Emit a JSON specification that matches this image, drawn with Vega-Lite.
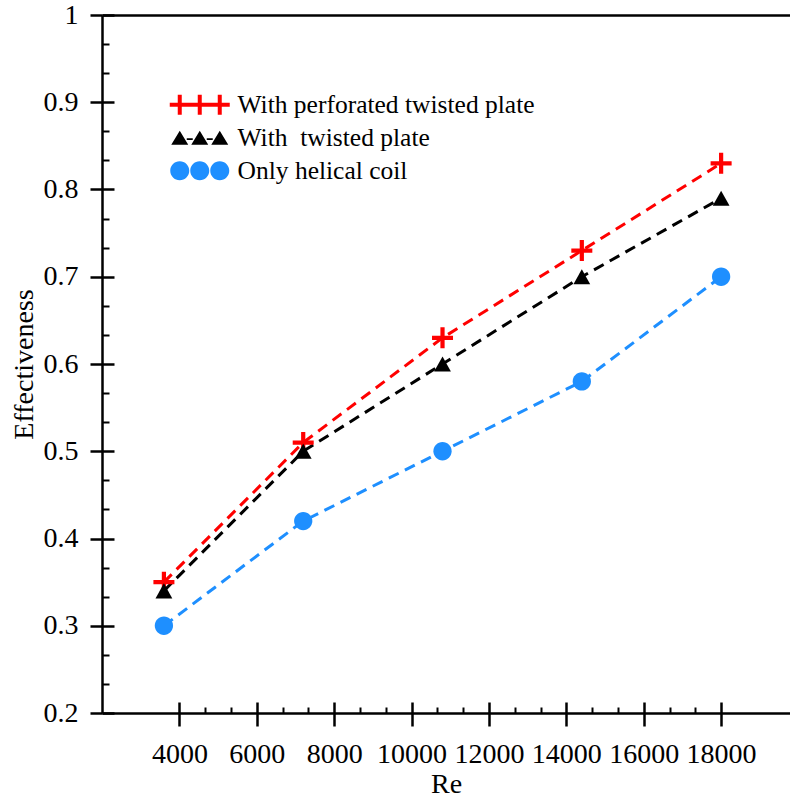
{
  "$schema": "https://vega.github.io/schema/vega-lite/v6.json",
  "width": 688,
  "height": 698,
  "autosize": {"type": "none"},
  "padding": {"left": 102, "top": 15, "right": 0, "bottom": 88},
  "background": "white",
  "config": {
    "view": {"stroke": null},
    "axis": {
      "grid": false,
      "labelFont": "Liberation Serif",
      "labelFontSize": 28,
      "labelColor": "black",
      "titleFont": "Liberation Serif",
      "titleFontSize": 28,
      "titleFontWeight": "normal",
      "titleColor": "black",
      "domainColor": "black",
      "tickColor": "black",
      "labelFlush": false,
      "labelOverlap": false
    }
  },
  "data": {
    "values": [
      {"Re": 3600, "E": 0.35, "series": "With perforated twisted plate"},
      {"Re": 7200, "E": 0.51, "series": "With perforated twisted plate"},
      {"Re": 10800, "E": 0.63, "series": "With perforated twisted plate"},
      {"Re": 14400, "E": 0.73, "series": "With perforated twisted plate"},
      {"Re": 18000, "E": 0.83, "series": "With perforated twisted plate"},
      {"Re": 3600, "E": 0.34, "series": "With\u00a0 twisted plate"},
      {"Re": 7200, "E": 0.50, "series": "With\u00a0 twisted plate"},
      {"Re": 10800, "E": 0.60, "series": "With\u00a0 twisted plate"},
      {"Re": 14400, "E": 0.70, "series": "With\u00a0 twisted plate"},
      {"Re": 18000, "E": 0.79, "series": "With\u00a0 twisted plate"},
      {"Re": 3600, "E": 0.30, "series": "Only helical coil"},
      {"Re": 7200, "E": 0.42, "series": "Only helical coil"},
      {"Re": 10800, "E": 0.50, "series": "Only helical coil"},
      {"Re": 14400, "E": 0.58, "series": "Only helical coil"},
      {"Re": 18000, "E": 0.70, "series": "Only helical coil"}
    ]
  },
  "layer": [
    {
      "mark": {"type": "line", "strokeWidth": 3, "strokeDash": [11, 7]},
      "encoding": {
        "x": {
          "field": "Re", "type": "quantitative",
          "scale": {"domain": [2000, 19780], "nice": false, "zero": false},
          "axis": {
            "orient": "bottom",
            "values": [4000, 6000, 8000, 10000, 12000, 14000, 16000, 18000],
            "format": "d",
            "tickSize": 13, "tickWidth": 2.5, "domainWidth": 2.5,
            "labelPadding": 14,
            "title": "Re", "titlePadding": 2
          }
        },
        "y": {
          "field": "E", "type": "quantitative",
          "scale": {"domain": [0.2, 1], "nice": false, "zero": false},
          "axis": {
            "orient": "left",
            "values": [0.2, 0.3, 0.4, 0.5, 0.6, 0.7, 0.8, 0.9, 1],
            "format": "~g",
            "tickSize": 12, "tickWidth": 2.5, "domainWidth": 2.5,
            "labelPadding": 12,
            "title": "Effectiveness", "titlePadding": 5
          }
        },
        "color": {
          "field": "series", "type": "nominal",
          "scale": {
            "domain": ["With perforated twisted plate", "With\u00a0 twisted plate", "Only helical coil"],
            "range": ["#ff0000", "#000000", "#1e8fff"]
          },
          "legend": null
        },
        "detail": {"field": "series"}
      }
    },
    {
      "mark": {"type": "point", "filled": true, "opacity": 1, "strokeWidth": 0, "size": 441},
      "encoding": {
        "x": {
          "field": "Re", "type": "quantitative",
          "scale": {"domain": [2000, 19780], "nice": false, "zero": false},
          "axis": {
            "orient": "bottom",
            "values": [4000, 6000, 8000, 10000, 12000, 14000, 16000, 18000],
            "tickSize": -11, "tickWidth": 2.5,
            "domain": false, "labels": false, "title": null
          }
        },
        "y": {
          "field": "E", "type": "quantitative",
          "scale": {"domain": [0.2, 1], "nice": false, "zero": false},
          "axis": {
            "orient": "left",
            "values": [0.2, 0.3, 0.4, 0.5, 0.6, 0.7, 0.8, 0.9, 1],
            "tickSize": -12, "tickWidth": 2.5,
            "domain": false, "labels": false, "title": null
          }
        },
        "color": {
          "field": "series", "type": "nominal",
          "scale": {
            "domain": ["With perforated twisted plate", "With\u00a0 twisted plate", "Only helical coil"],
            "range": ["#ff0000", "#000000", "#1e8fff"]
          },
          "legend": null
        },
        "shape": {
          "field": "series", "type": "nominal",
          "scale": {
            "domain": ["With perforated twisted plate", "With\u00a0 twisted plate", "Only helical coil"],
            "range": [
              "M-1,-0.2H-0.2V-1H0.2V-0.2H1V0.2H0.2V1H-0.2V0.2H-1Z",
              "M0,-0.72L0.8,0.72L-0.8,0.72Z",
              "M-0.87,0A0.87,0.87,0,1,0,0.87,0A0.87,0.87,0,1,0,-0.87,0Z"
            ]
          },
          "legend": null
        }
      }
    },
    {
      "transform": [{"filter": "false"}],
      "mark": {"type": "point", "filled": true, "opacity": 1, "strokeWidth": 0},
      "encoding": {
        "x": {
          "field": "Re", "type": "quantitative",
          "scale": {"domain": [2000, 19780], "nice": false, "zero": false},
          "axis": {
            "orient": "bottom",
            "values": [4667, 5333, 6667, 7333, 8667, 9333, 10667, 11333, 12667, 13333, 14667, 15333, 16667, 17333],
            "tickSize": -6, "tickWidth": 2,
            "domain": false, "labels": false, "title": null
          }
        },
        "y": {
          "field": "E", "type": "quantitative",
          "scale": {"domain": [0.2, 1], "nice": false, "zero": false},
          "axis": {
            "orient": "left",
            "values": [0.23333, 0.26667, 0.33333, 0.36667, 0.43333, 0.46667, 0.53333, 0.56667, 0.63333, 0.66667, 0.73333, 0.76667, 0.83333, 0.86667, 0.93333, 0.96667],
            "tickSize": -7, "tickWidth": 2,
            "domain": false, "labels": false, "title": null
          }
        },
        "color": {
          "field": "series", "type": "nominal",
          "scale": {
            "domain": ["With perforated twisted plate", "With\u00a0 twisted plate", "Only helical coil"],
            "range": ["#ff0000", "#000000", "#1e8fff"]
          },
          "legend": {
            "orient": "none",
            "legendX": 65,
            "legendY": 77,
            "title": null,
            "padding": 0,
            "symbolSize": 400,
            "symbolOpacity": 1,
            "symbolStrokeWidth": 0,
            "labelOffset": 45,
            "labelFont": "Liberation Serif",
            "labelFontSize": 25.5,
            "labelColor": "black",
            "labelLimit": 0,
            "rowPadding": 6
          }
        },
        "shape": {
          "field": "series", "type": "nominal",
          "scale": {
            "domain": ["With perforated twisted plate", "With\u00a0 twisted plate", "Only helical coil"],
            "range": [
              "M-1,-0.2H-0.2V-1H0.2V-0.2H1V0.2H0.2V1H-0.2V0.2H-1ZM1,-0.2H1.8V-1H2.2V-0.2H3V0.2H2.2V1H1.8V0.2H1ZM3,-0.2H3.8V-1H4.2V-0.2H5V0.2H4.2V1H3.8V0.2H3Z",
              "M0,-0.7L0.85,0.7L-0.85,0.7ZM2,-0.7L2.85,0.7L1.15,0.7ZM4,-0.7L4.85,0.7L3.15,0.7ZM0.7,0.05H1.3V0.22H0.7ZM2.7,0.05H3.3V0.22H2.7Z",
              "M-0.95,0A0.95,0.95,0,1,0,0.95,0A0.95,0.95,0,1,0,-0.95,0ZM1.05,0A0.95,0.95,0,1,0,2.95,0A0.95,0.95,0,1,0,1.05,0ZM3.05,0A0.95,0.95,0,1,0,4.95,0A0.95,0.95,0,1,0,3.05,0Z"
            ]
          }
        }
      }
    },
    {
      "mark": {"type": "point", "opacity": 0},
      "encoding": {
        "x": {
          "field": "Re", "type": "quantitative",
          "scale": {"domain": [2000, 19780], "nice": false, "zero": false},
          "axis": {
            "orient": "top",
            "domain": true, "domainWidth": 2.5,
            "ticks": false, "labels": false, "title": null
          }
        },
        "y": {
          "field": "E", "type": "quantitative",
          "scale": {"domain": [0.2, 1], "nice": false, "zero": false},
          "axis": null
        }
      }
    }
  ],
  "resolve": {
    "axis": {"x": "independent", "y": "independent"},
    "scale": {"color": "independent", "shape": "independent"}
  }
}
